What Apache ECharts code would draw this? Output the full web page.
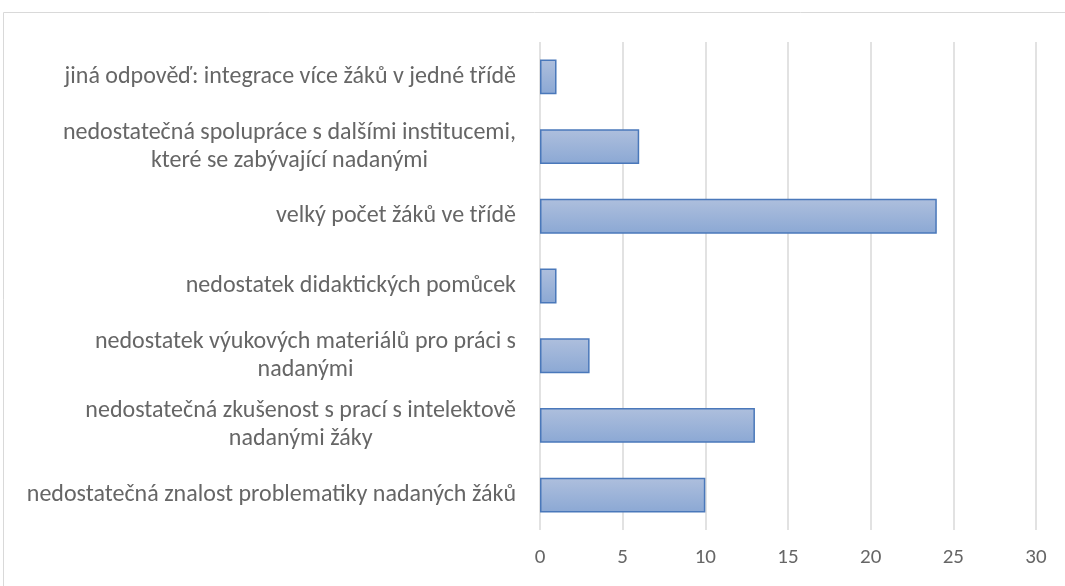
<!DOCTYPE html>
<html>
<head>
<meta charset="utf-8">
<script src="https://cdn.jsdelivr.net/npm/echarts@6/dist/echarts.min.js"></script>
<style>
  html, body { margin: 0; padding: 0; background: #fff; }
  #chart { width: 1065px; height: 586px; }
</style>
</head>
<body>
<div id="chart"></div>
<script>
// categories listed bottom to top (as the value axis draws them)
var categories = [
  'nedostatečná znalost problematiky nadaných žáků',
  'nedostatečná zkušenost s prací s intelektově\nnadanými žáky',
  'nedostatek výukových materiálů pro práci s\nnadanými',
  'nedostatek didaktických pomůcek',
  'velký počet žáků ve třídě',
  'nedostatečná spolupráce s dalšími institucemi,\nkteré se zabývající nadanými',
  'jiná odpověď: integrace více žáků v jedné třídě'
];
var counts = [10, 13, 3, 1, 24, 6, 1];
var xTicks = [0, 5, 10, 15, 20, 25, 30];

var labelFont = 'Carlito, Calibri, Lato, sans-serif';
var textColor = '#666666';
var myChart = echarts.init(document.getElementById('chart'));

var option = {
  animation: false,
  graphic: [
    {
      type: 'rect',
      shape: { x: 3.5, y: 12.5, width: 1100, height: 620 },
      style: { fill: 'none', stroke: '#d9d9d9', lineWidth: 1 },
      silent: true
    }
  ],
  grid: {
    left: 540,
    right: 29,
    top: 42,
    bottom: 56
  },
  xAxis: {
    type: 'value',
    min: xTicks[0],
    max: xTicks[xTicks.length - 1],
    interval: 5,
    axisLine: { show: false },
    axisTick: { show: false },
    splitLine: { lineStyle: { color: '#d9d9d9', width: 1.5 } },
    axisLabel: {
      color: textColor,
      fontFamily: labelFont,
      fontSize: 21,
      margin: 17
    }
  },
  yAxis: {
    type: 'category',
    data: categories,
    axisLine: { show: false },
    axisTick: { show: false },
    axisLabel: {
      color: textColor,
      fontFamily: labelFont,
      fontSize: 24,
      lineHeight: 28,
      margin: 24,
      formatter: function (v) {
        return v.split('\n').map(function (s) { return '{c|' + s + '}'; }).join('\n');
      },
      rich: {
        c: {
          align: 'center',
          color: textColor,
          fontFamily: labelFont,
          fontSize: 24,
          lineHeight: 28
        }
      }
    }
  },
  series: [
    {
      type: 'bar',
      data: counts,
      barCategoryGap: '50%',
      itemStyle: {
        color: new echarts.graphic.LinearGradient(0, 0, 0, 1, [
          { offset: 0, color: '#aebfdd' },
          { offset: 1, color: '#8ba8d4' }
        ]),
        borderColor: '#4a78ba',
        borderWidth: 1.5
      }
    }
  ]
};
myChart.setOption(option);
</script>
</body>
</html>
